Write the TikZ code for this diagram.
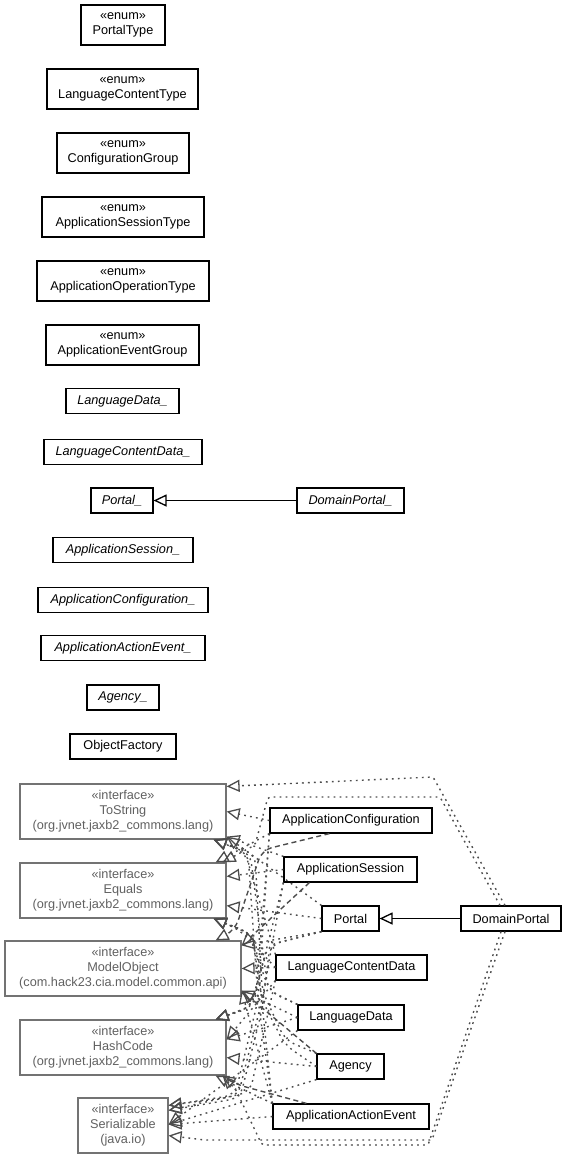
\documentclass[tikz,border=0pt]{standalone}
\usepackage{fontspec}
\setmainfont{Liberation Sans}
\usetikzlibrary{arrows.meta,calc}
\begin{document}
\begin{tikzpicture}[x=1pt,y=-1pt,
  box/.style={draw=black, line width=1.2pt, inner sep=0pt, align=center, fill=white,
    font=\fontsize{12.7}{15}\selectfont},
  iface/.style={box, draw=black!55, text=black!62, minimum height=55pt},
  enumbox/.style={box, minimum height=40pt},
  cls/.style={box, minimum height=25pt},
  itcls/.style={cls, font=\fontsize{12.7}{15}\selectfont\itshape},
  real/.style={draw=black!70, line width=1.4pt, dash pattern=on 1.8pt off 4.2pt, rounded corners=10pt,
    -{Triangle[open,length=13pt,width=12pt,line width=1.3pt]}},
  dreal/.style={real, dash pattern=on 5pt off 3.5pt},
  gen/.style={draw=black, line width=1.2pt, -{Triangle[open,length=13pt,width=12pt,line width=1.3pt]}}
]
\useasboundingbox (0,0) rectangle (567,1159);

% enums
\node[enumbox, minimum width=84pt] (PT) at (123,25) {«enum»\\PortalType};
\node[enumbox, minimum width=151pt] (LCT) at (122.5,89) {«enum»\\LanguageContentType};
\node[enumbox, minimum width=132pt] (CG) at (123,153) {«enum»\\ConfigurationGroup};
\node[enumbox, minimum width=162pt] (AST) at (123,217) {«enum»\\ApplicationSessionType};
\node[enumbox, minimum width=172pt] (AOT) at (123,281) {«enum»\\ApplicationOperationType};
\node[enumbox, minimum width=153pt] (AEG) at (122.5,345) {«enum»\\ApplicationEventGroup};

% metamodel classes
\node[itcls, minimum width=113pt] (LDm) at (122.5,401) {LanguageData\_};
\node[itcls, minimum width=158pt] (LCDm) at (123,452) {LanguageContentData\_};
\node[itcls, minimum width=62pt] (Pm) at (122,500.5) {Portal\_};
\node[itcls, minimum width=107pt] (DPm) at (350.5,500.5) {DomainPortal\_};
\node[itcls, minimum width=140pt] (ASm) at (123,550) {ApplicationSession\_};
\node[itcls, minimum width=170pt] (ACm) at (123,600) {ApplicationConfiguration\_};
\node[itcls, minimum width=164pt] (AAEm) at (123,648) {ApplicationActionEvent\_};
\node[itcls, minimum width=72pt] (Agm) at (123,697.5) {Agency\_};
\node[cls, minimum width=106pt] (OF) at (123,746.5) {ObjectFactory};

\draw[gen] (DPm) -- (Pm);

% interfaces
\node[iface, minimum width=206pt] (TS) at (123,811.5) {«interface»\\ToString\\(org.jvnet.jaxb2\_commons.lang)};
\node[iface, minimum width=206pt] (EQ) at (123,890.5) {«interface»\\Equals\\(org.jvnet.jaxb2\_commons.lang)};
\node[iface, minimum width=236pt] (MO) at (123,968.5) {«interface»\\ModelObject\\(com.hack23.cia.model.common.api)};
\node[iface, minimum width=206pt] (HC) at (123,1047.5) {«interface»\\HashCode\\(org.jvnet.jaxb2\_commons.lang)};
\node[iface, minimum width=90pt] (SE) at (123,1125.5) {«interface»\\Serializable\\(java.io)};

% classes
\node[cls, minimum width=162pt] (AC) at (351,820.5) {ApplicationConfiguration};
\node[cls, minimum width=133pt] (AS) at (350.5,869.5) {ApplicationSession};
\node[cls, minimum width=57pt] (P) at (350.5,918.5) {Portal};
\node[cls, minimum width=100pt] (DP) at (511,918.5) {DomainPortal};
\node[cls, minimum width=151pt] (LCD) at (351.5,967.5) {LanguageContentData};
\node[cls, minimum width=106pt] (LD) at (351,1017.5) {LanguageData};
\node[cls, minimum width=67pt] (Ag) at (350.5,1066.5) {Agency};
\node[cls, minimum width=156pt] (AAE) at (351,1116.5) {ApplicationActionEvent};

\draw[gen] (DP) -- (P);

% attach points on interfaces
\coordinate (T1) at ($(TS.north east)+(0,3)$);
\coordinate (T2) at (TS.east);
\coordinate (T3) at ($(TS.south east)+(0,-3)$);
\coordinate (T4) at ($(TS.south east)+(-13,0)$);
\coordinate (E1) at ($(EQ.north east)+(-11,0)$);
\coordinate (E2) at ($(EQ.north east)+(-4,0)$);
\coordinate (E3) at ($(EQ.north east)+(0,14)$);
\coordinate (E4) at ($(EQ.south east)+(0,-13)$);
\coordinate (E5) at ($(EQ.south east)+(-13,0)$);
\coordinate (M1) at ($(MO.north east)+(-26,0)$);
\coordinate (M2) at ($(MO.north east)+(0,5)$);
\coordinate (M3) at (MO.east);
\coordinate (M4) at ($(MO.south east)+(0,-6)$);
\coordinate (H1) at ($(HC.north east)+(-11,0)$);
\coordinate (H2) at ($(HC.north east)+(0,20)$);
\coordinate (H3) at ($(HC.south east)+(0,-18)$);
\coordinate (H4) at ($(HC.south east)+(-11,0)$);
\coordinate (H5) at ($(HC.south east)+(-4,0)$);
\coordinate (S1) at ($(SE.north east)+(0,8)$);
\coordinate (S2) at ($(SE.north east)+(0,13)$);
\coordinate (S3) at ($(SE.east)+(0,-1)$);
\coordinate (S4) at ($(SE.south east)+(0,-18)$);

% source points
\coordinate (ACs) at ($(AC.south west)+(60,0)$);
\coordinate (ASs) at ($(AS.south west)+(26,0)$);
\coordinate (AAEn) at ($(AAE.north west)+(34,0)$);

% ToString
\draw[real] (AC.west) -- (T2);
\draw[real] (AS.north west) -- (T3);
\draw[real] (P.north west) -- (T3);
\draw[real] (LCD.north west) -- (245,852) -- (T4);
\draw[real] (LD.north west) -- (268,990) -- (250,853) -- (T4);
\draw[real] (Ag.north west) -- (285,1040) -- (262,990) -- (255,854) -- (T4);
\draw[real] (AAE.north west) -- (258,1000) -- (248,853) -- (T4);
% Equals
\draw[real] (AC.south west) -- (E1);
\draw[real] (AS.west) -- (E3);
\draw[real] (P.west) -- (E4);
\draw[real] (LCD.west) -- (240,930) -- (E5);
\draw[real] (LD.north west) -- (270,992) -- (248,932) -- (E5);
\draw[real] (Ag.west) -- (285,1045) -- (262,1000) -- (252,934) -- (E5);
\draw[real] (AAE.north west) -- (255,936) -- (E5);
% ModelObject
\draw[dreal] (ACs) -- (262,850) -- (235,930) -- (M1);
\draw[dreal] (ASs) -- (M2);
\draw[real] (P.south west) -- (M2);
\draw[real] (LCD.west) -- (M3);
\draw[real] (LD.west) -- (M4);
\draw[dreal] (Ag.north west) -- (M4);
\draw[real] (AAE.north west) -- (M4);
% HashCode
\draw[real] (AC.south west) -- (255,1005) -- (H1);
\draw[real] (AS.south west) -- (252,1006) -- (H1);
\draw[real] (P.south west) -- (268,945) -- (250,1008) -- (H1);
\draw[real] (LCD.south west) -- (H2);
\draw[real] (LD.west) -- (H2);
\draw[real] (Ag.west) -- (H3);
\draw[real] (AAE.north west) -- (240,1088) -- (H4);
\draw[dreal] (AAEn) -- (235,1084) -- (H5);
% Serializable
\draw[real] (AC.south west) -- (258,1000) -- (235,1095) -- (S1);
\draw[real] (AS.south west) -- (262,1000) -- (238,1096) -- (S1);
\draw[real] (P.south west) -- (270,945) -- (262,1010) -- (240,1098) -- (S2);
\draw[real] (LCD.south west) -- (250,1092) -- (S2);
\draw[real] (LD.south west) -- (S3);
\draw[real] (Ag.south west) -- (S3);
\draw[real] (AAE.west) -- (S3);

% DomainPortal realizations
\coordinate (DPa) at ($(DP.north)+(-6,0)$);
\coordinate (DPb) at ($(DP.north)+(-11,0)$);
\coordinate (DPc) at ($(DP.south)+(-6,0)$);
\coordinate (DPd) at ($(DP.south)+(-10,0)$);
\draw[real, rounded corners=2pt] (DPa) -- (433,777) -- (T1);
\draw[real, rounded corners=2pt] (DPb) -- (440,797) -- (268,797) -- (255,845) -- (E2);
\draw[real, rounded corners=2pt] (DPc) -- (432,1140) -- (205,1140) -- (S4);
\draw[real, rounded corners=2pt] (DPd) -- (428,1145) -- (262,1145) -- (236,1090) -- (H5);
\end{tikzpicture}
\end{document}
